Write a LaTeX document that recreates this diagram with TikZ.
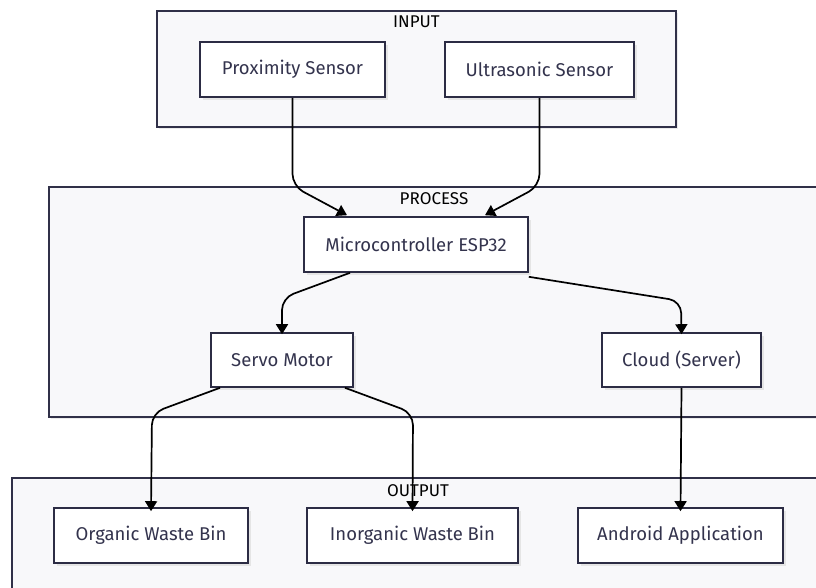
\documentclass[tikz,border=0pt]{standalone}
\usepackage{fontspec}
\setmainfont{Fira Sans}
\usetikzlibrary{arrows.meta,shadows}
\definecolor{clusterfill}{HTML}{F8F8FA}
\definecolor{clusterline}{HTML}{303048}
\definecolor{nodeline}{HTML}{2C2C44}
\definecolor{nodetext}{HTML}{33334D}
\begin{document}
\begin{tikzpicture}[x=1pt,y=-1pt,
  cluster/.style={draw=clusterline, line width=1.6pt, fill=clusterfill,
    drop shadow={shadow xshift=2pt, shadow yshift=-2pt, fill=black!8, opacity=1}},
  clusterlabel/.style={font=\fontsize{17}{19}\selectfont, text=black, inner sep=0pt},
  box/.style={draw=nodeline, line width=1.6pt, fill=white, text=nodetext,
    font=\fontsize{18.5}{21}\selectfont, inner sep=0pt,
    drop shadow={shadow xshift=3pt, shadow yshift=-3pt, fill=black!10, opacity=1}},
  edge/.style={draw=black, line width=1.7pt, rounded corners=12pt,
    -{Triangle[width=12pt,length=10pt]}}
]
\useasboundingbox (0,0) rectangle (816,588);
\fill[white] (0,0) rectangle (816,588);

% groups
\draw[cluster] (157,11) rectangle (676,127);
\node[clusterlabel] (lin) at (416.5,22) {INPUT};
\draw[cluster] (49,187) rectangle (822,417);
\node[clusterlabel] (lproc) at (434,199) {PROCESS};
\draw[cluster] (12,478) rectangle (826,600);
\node[clusterlabel] (lout) at (418,491) {OUTPUT};

% components
\node[box, minimum width=185pt, minimum height=55pt] (prox) at (292.5,69.5) {Proximity Sensor};
\node[box, minimum width=189pt, minimum height=55pt] (ultra) at (539.5,69.5) {Ultrasonic Sensor};
\node[box, minimum width=224pt, minimum height=55pt] (mcu) at (416,244.5) {Microcontroller ESP32};
\node[box, minimum width=142pt, minimum height=54pt] (servo) at (282,360) {Servo Motor};
\node[box, minimum width=159pt, minimum height=54pt] (cloud) at (681.5,360) {Cloud (Server)};
\node[box, minimum width=194pt, minimum height=55pt] (organic) at (151,535.5) {Organic Waste Bin};
\node[box, minimum width=211pt, minimum height=55pt] (inorganic) at (412.5,535.5) {Inorganic Waste Bin};
\node[box, minimum width=205pt, minimum height=55pt] (android) at (680.5,535.5) {Android Application};

% connections
\draw[edge] (prox.south) -- (292.5,186) -- ([xshift=-69pt,yshift=1pt]mcu.north);
\draw[edge] (ultra.south) -- (539.5,186) -- ([xshift=69pt,yshift=1pt]mcu.north);
\draw[edge] ([xshift=-66pt]mcu.south) -- (282,298) -- ([yshift=-2pt]servo.north);
\draw[edge] ([yshift=-4pt]mcu.south east) -- (681,301) -- ([yshift=-2pt]cloud.north);
\draw[edge] ([xshift=-62pt]servo.south) -- (152,413) -- ([yshift=-4pt]organic.north);
\draw[edge] ([xshift=63pt]servo.south) -- (413,413) -- ([yshift=-4pt]inorganic.north);
\draw[edge] (cloud.south) -- ([yshift=-4pt]android.north);
\end{tikzpicture}
\end{document}
